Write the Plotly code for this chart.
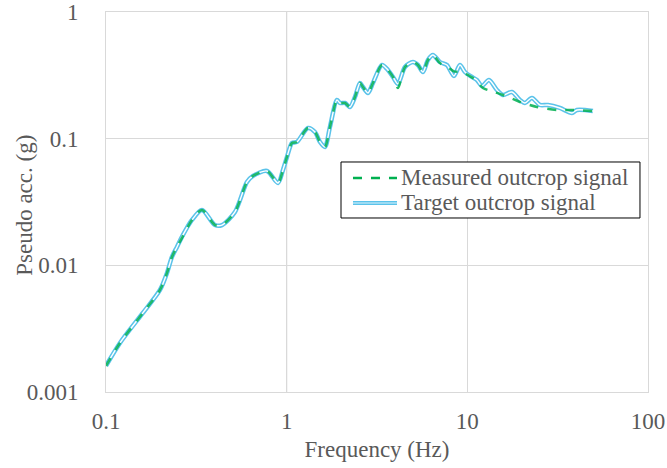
import plotly.graph_objects as go

# Target outcrop response spectrum (frequency in Hz, pseudo acceleration in g)
target_freq = [0.100, 0.1195, 0.160, 0.199, 0.2176, 0.2318, 0.2471, 0.2667, 0.2991, 0.3398,
               0.401, 0.4385, 0.5175, 0.603, 0.651, 0.778, 0.895, 0.954, 1.004, 1.070,
               1.140, 1.312, 1.434, 1.529, 1.629, 1.736, 1.898, 1.972, 2.102, 2.240,
               2.388, 2.545, 2.644, 2.818, 3.003, 3.370, 3.636, 3.876, 4.130, 4.516,
               5.000, 5.329, 5.679, 6.053, 6.451, 7.052, 7.711, 8.430, 9.100, 9.698,
               10.60, 11.30, 12.04, 13.17, 14.58, 15.74, 17.65, 19.55, 20.84, 22.78,
               25.22, 27.93, 32.54, 37.93, 40.42, 49.56]
target_acc = [0.00161, 0.00244, 0.00421, 0.00639, 0.00871, 0.01165, 0.01397, 0.01738, 0.0228, 0.0274,
              0.0208, 0.0208, 0.0264, 0.0455, 0.0508, 0.0556, 0.0447, 0.0566, 0.0717, 0.0925,
              0.0942, 0.1215, 0.1129, 0.0942, 0.0860, 0.1237, 0.2020, 0.1913, 0.1913, 0.178,
              0.2134, 0.2752, 0.2559, 0.2294, 0.2752, 0.3817, 0.3484, 0.3069, 0.2702, 0.368,
              0.403, 0.3817, 0.336, 0.418, 0.4576, 0.403, 0.3817, 0.3126, 0.3817, 0.336,
              0.3069, 0.2905, 0.2606, 0.2905, 0.2422, 0.2213, 0.2336, 0.2020, 0.1913, 0.2096,
              0.1845, 0.1845, 0.1747, 0.1595, 0.1684, 0.1654]

# Measured outcrop response spectrum
measured_freq = [0.100, 0.1195, 0.160, 0.199, 0.2176, 0.2318, 0.2471, 0.2667, 0.2991, 0.3398,
                 0.401, 0.4385, 0.5175, 0.603, 0.651, 0.778, 0.895, 0.954, 1.004, 1.070,
                 1.140, 1.312, 1.434, 1.529, 1.629, 1.736, 1.898, 1.972, 2.102, 2.240,
                 2.388, 2.545, 2.644, 2.818, 3.003, 3.370, 3.636, 3.876, 4.130, 4.516,
                 5.000, 5.329, 5.679, 6.053, 6.451, 7.052, 7.711, 8.430, 9.330, 10.60,
                 11.30, 12.20, 13.50, 15.74, 17.65, 19.55, 24.28, 31.32, 38.41, 49.56]
measured_acc = [0.00161, 0.00244, 0.00421, 0.00639, 0.00871, 0.01165, 0.01397, 0.01700, 0.0228, 0.0274,
                0.0208, 0.0208, 0.0264, 0.0455, 0.0508, 0.0556, 0.0447, 0.0566, 0.0717, 0.0925,
                0.0942, 0.1215, 0.1129, 0.0942, 0.0860, 0.1237, 0.2020, 0.1913, 0.1913, 0.178,
                0.2134, 0.2752, 0.2559, 0.2294, 0.2752, 0.3817, 0.3484, 0.3069, 0.2512, 0.368,
                0.403, 0.3817, 0.336, 0.418, 0.4576, 0.395, 0.372, 0.340, 0.336, 0.305,
                0.285, 0.2512, 0.238, 0.2213, 0.207, 0.1949, 0.178, 0.1684, 0.1684, 0.1654]

x_ticks = [0.1, 1, 10, 100]
x_tick_text = ["0.1", "1", "10", "100"]
y_ticks = [0.001, 0.01, 0.1, 1]
y_tick_text = ["0.001", "0.01", "0.1", "1"]

series_names = ["Measured outcrop signal", "Target outcrop signal"]

FONT = "Liberation Serif, Times New Roman, serif"
TEXT = "#595959"
BLUE = "#5bc3ea"
GREEN = "#00b050"
SIZE = 23
SPLINE = dict(shape="spline", smoothing=0.8)

fig = go.Figure()

# Target drawn as a double line: blue outline with a white core
fig.add_trace(go.Scatter(
    x=target_freq, y=target_acc, mode="lines", name=series_names[1], showlegend=False,
    line=dict(color=BLUE, width=4.5, **SPLINE)))
fig.add_trace(go.Scatter(
    x=target_freq, y=target_acc, mode="lines", showlegend=False, hoverinfo="skip",
    line=dict(color="white", width=1.4, **SPLINE)))
fig.add_trace(go.Scatter(
    x=measured_freq, y=measured_acc, mode="lines", name=series_names[0], showlegend=False,
    line=dict(color=GREEN, width=2.5, dash="dash", **SPLINE), opacity=0.85))

# vertical axis crossing at 1 Hz
fig.add_shape(type="line", xref="x", yref="paper", x0=1, x1=1, y0=0, y1=1,
              line=dict(color="#bfbfbf", width=1), layer="below")

# Legend box with compact rows
box = dict(x0=0.4336, x1=0.9852, y0=0.4579, y1=0.6053)
rows_y = [0.5632, 0.4974]
sample_x = (0.4557, 0.5369)
fig.add_shape(type="rect", xref="paper", yref="paper", **box,
              line=dict(color="black", width=1), fillcolor="white", layer="above")
fig.add_shape(type="line", xref="paper", yref="paper",
              x0=sample_x[0], x1=sample_x[1], y0=rows_y[0], y1=rows_y[0],
              line=dict(color=GREEN, width=2.5, dash="dash"), layer="above")
fig.add_shape(type="line", xref="paper", yref="paper",
              x0=sample_x[0], x1=sample_x[1], y0=rows_y[1], y1=rows_y[1],
              line=dict(color=BLUE, width=4), layer="above")
fig.add_shape(type="line", xref="paper", yref="paper",
              x0=sample_x[0], x1=sample_x[1], y0=rows_y[1], y1=rows_y[1],
              line=dict(color="#dff3fb", width=1.2), layer="above")
for name, ry in zip(series_names, rows_y):
    fig.add_annotation(x=sample_x[1] + 0.004, y=ry, xref="paper", yref="paper",
                       text=name, showarrow=False, xanchor="left", yanchor="middle",
                       font=dict(family=FONT, size=SIZE, color=TEXT))

# Vertical axis title
fig.add_annotation(x=-0.1494, y=0.49, xref="paper", yref="paper",
                   text="Pseudo acc. (g)", textangle=-90, showarrow=False,
                   xanchor="center", yanchor="middle",
                   font=dict(family=FONT, size=SIZE, color=TEXT))

fig.update_layout(
    width=667, height=468,
    margin=dict(l=106, r=19, t=12, b=76, autoexpand=False),
    paper_bgcolor="white", plot_bgcolor="white",
    font=dict(family=FONT, size=SIZE, color=TEXT),
    showlegend=False,
)

fig.update_xaxes(
    type="log", range=[-1, 2], tickvals=x_ticks, ticktext=x_tick_text,
    showgrid=True, gridcolor="#d9d9d9", gridwidth=1,
    showline=True, linecolor="#d9d9d9", linewidth=1, mirror=True,
    ticks="", zeroline=False, ticklabelstandoff=8, automargin=False,
    title=dict(text="Frequency (Hz)", font=dict(family=FONT, size=SIZE, color=TEXT), standoff=8),
)
fig.update_yaxes(
    type="log", range=[-3, 0], tickvals=y_ticks, ticktext=y_tick_text,
    showgrid=True, gridcolor="#d9d9d9", gridwidth=1,
    showline=True, linecolor="#d9d9d9", linewidth=1, mirror=True,
    ticks="", zeroline=False, ticklabelstandoff=22, automargin=False,
)

fig.write_html("out.html")
